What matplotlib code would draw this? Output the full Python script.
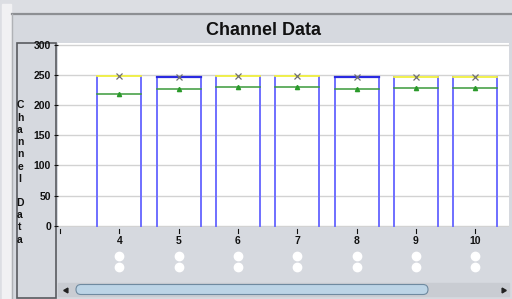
import matplotlib
matplotlib.use("Agg")
import matplotlib.pyplot as plt
from matplotlib.patches import Rectangle, FancyBboxPatch

# data
channels = [4, 5, 6, 7, 8, 9, 10]
box_top = [247, 246, 247, 247, 246, 246, 246]
max_vals = [248, 246, 248, 248, 246, 247, 247]
mean_vals = [219, 226, 230, 230, 226, 228, 229]
y_ticks = [0, 50, 100, 150, 200, 250, 300]
title = "Channel Data"
y_label = "Channel Data"

W, H = 512, 299
BG = "#d6d9df"
plt.rcParams['font.family'] = ['Liberation Sans', 'DejaVu Sans']


def rect(x0, y0, x1, y1):
    # pixel box (top-left origin) -> figure fraction
    return [x0 / W, 1 - y1 / H, (x1 - x0) / W, (y1 - y0) / H]


fig = plt.figure(figsize=(W / 100, H / 100), dpi=100, facecolor=BG)

# frame / decoration layer
deco = fig.add_axes([0, 0, 1, 1])
deco.set_xlim(0, W)
deco.set_ylim(H, 0)
deco.axis("off")
deco.add_patch(Rectangle((0, 0), W, H, color="#dcdee3", zorder=0))
deco.add_patch(Rectangle((2, 4), 9, H, color="#f1f1f3", zorder=1))
deco.add_patch(Rectangle((12, 14), W, H, color=BG, zorder=1))
deco.plot([12, W], [14, 14], color="#8d8f93", lw=1.6, zorder=2)
deco.plot([12, 12], [14, H], color="#b0b2b6", lw=1, zorder=2)
# y label panel
deco.add_patch(Rectangle((16.5, 42.5), 39.5, 255, fill=False, ec="#5a5c60", lw=1.2, zorder=3))
deco.text(263.5, 30.5, title, ha="center", va="center", fontsize=13, fontweight="bold", color="#111111")
for i, ch in enumerate(y_label):
    deco.text(20, 105.5 + i * 12.2, ch, ha="center", va="center", fontsize=7.5,
              fontweight="bold", color="#111111")

# scrollbar
deco.add_patch(Rectangle((58, 283), 451, 13, color="#c9ccd2", zorder=2))
deco.add_patch(FancyBboxPatch((76, 284.5), 352, 10, boxstyle="round,pad=0,rounding_size=5",
                              fc="#bcd4e6", ec="#6f8aa0", lw=0.8, zorder=3))
deco.plot([66], [289.5], marker=(3, 0, 90), ms=4, color="#222222", zorder=4)
deco.plot([503], [289.5], marker=(3, 0, -90), ms=4, color="#222222", zorder=4)

# main plot
ax = fig.add_axes(rect(58, 43, 509, 227))
ax.set_facecolor("white")
ax.set_xlim(2.966, 10.57)
ax.set_ylim(-2, 303)
for v in y_ticks:
    ax.axhline(v, color="#d2d2d2", lw=1.0, zorder=0)

half = 0.37
for x, top, mx, mean in zip(channels, box_top, max_vals, mean_vals):
    ax.plot([x - half, x - half], [-2, top], color="#6f6fff", lw=1.4, zorder=2)
    ax.plot([x + half, x + half], [-2, top], color="#6f6fff", lw=1.4, zorder=2)
    if mx > top:
        ax.plot([x - half, x + half], [mx, mx], color="#f0f040", lw=1.3, zorder=3)
    else:
        ax.plot([x - half, x + half], [top, top], color="#2a2ae0", lw=1.6, zorder=3)
    ax.plot([x - half, x + half], [mean, mean], color="#3a9a3a", lw=1.1, zorder=3)
    ax.plot(x, mean, marker="^", ms=3, color="#2a9a2a", zorder=4)
    ax.plot(x, mx, marker="x", ms=4.5, mew=0.9, color="#707070", zorder=5)

for s in ax.spines.values():
    s.set_visible(False)
ax.set_yticks(y_ticks)
ax.set_yticklabels([str(v) for v in y_ticks], fontsize=7.5, fontweight="bold")
xt = [channels[0] - 1] + channels
ax.set_xticks(xt)
ax.set_xticklabels([])
ax.tick_params(axis="y", direction="out", length=3, width=0.8, pad=2, colors="#111111")
ax.tick_params(axis="x", length=0)

# x tick marks below the plot, labels and status circles
bot = fig.add_axes(rect(58, 227, 509, 282))
bot.set_xlim(ax.get_xlim())
bot.set_ylim(55, 0)
bot.axis("off")
for x in xt:
    bot.plot([x, x], [2, 6], color="#111111", lw=0.8)
for x in channels:
    bot.text(x, 14, str(x), ha="center", va="center", fontsize=7.5, fontweight="bold", color="#111111")
    bot.plot(x, 29, "o", ms=6, color="white", mec="white")
    bot.plot(x, 40, "o", ms=6, color="white", mec="white")

fig.savefig("out.png", dpi=100, facecolor=fig.get_facecolor())
